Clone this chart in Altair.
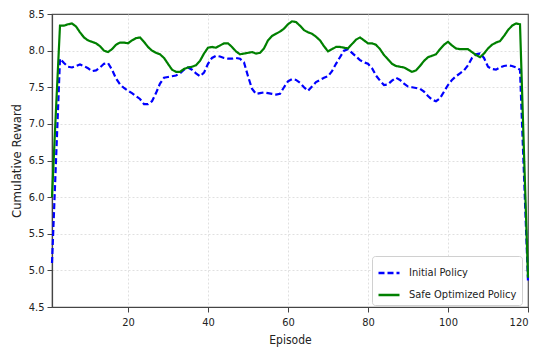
import altair as alt
import pandas as pd

episodes = list(range(1, 121))

initial_policy = [
    5.10, 6.50, 7.89, 7.83, 7.78, 7.77, 7.79, 7.81, 7.79, 7.76,
    7.72, 7.73, 7.77, 7.82, 7.83, 7.74, 7.62, 7.54, 7.49, 7.45,
    7.42, 7.38, 7.34, 7.27, 7.27, 7.31, 7.42, 7.55, 7.63, 7.64,
    7.65, 7.66, 7.69, 7.74, 7.77, 7.74, 7.69, 7.65, 7.70, 7.82,
    7.90, 7.93, 7.92, 7.90, 7.89, 7.89, 7.90, 7.89, 7.84, 7.65,
    7.48, 7.41, 7.42, 7.43, 7.42, 7.41, 7.40, 7.41, 7.50, 7.58,
    7.61, 7.60, 7.56, 7.50, 7.45, 7.51, 7.57, 7.60, 7.63, 7.65,
    7.72, 7.82, 7.91, 8.00, 8.02, 7.97, 7.92, 7.87, 7.84, 7.82,
    7.76, 7.66, 7.59, 7.53, 7.54, 7.59, 7.63, 7.60, 7.55, 7.51,
    7.50, 7.49, 7.48, 7.44, 7.38, 7.33, 7.31, 7.35, 7.44, 7.53,
    7.60, 7.65, 7.69, 7.73, 7.80, 7.90, 7.95, 7.96, 7.90, 7.78,
    7.75, 7.74, 7.77, 7.79, 7.80, 7.79, 7.77, 7.74, 6.30, 4.85,
]

safe_policy = [
    6.00, 7.20, 8.34, 8.34, 8.36, 8.37, 8.33, 8.25, 8.18, 8.14,
    8.12, 8.10, 8.06, 8.00, 7.98, 8.02, 8.08, 8.11, 8.11, 8.10,
    8.14, 8.17, 8.18, 8.12, 8.05, 8.00, 7.97, 7.95, 7.90, 7.82,
    7.74, 7.71, 7.71, 7.75, 7.77, 7.78, 7.80, 7.86, 7.96, 8.04,
    8.05, 8.04, 8.07, 8.10, 8.10, 8.05, 7.99, 7.95, 7.96, 7.97,
    7.98, 7.96, 7.97, 8.03, 8.14, 8.20, 8.23, 8.26, 8.30, 8.36,
    8.40, 8.39, 8.34, 8.28, 8.25, 8.23, 8.19, 8.14, 8.06, 7.99,
    8.02, 8.05, 8.05, 8.04, 8.03, 8.09, 8.15, 8.18, 8.14, 8.10,
    8.10, 8.08, 8.02, 7.94, 7.88, 7.82, 7.79, 7.78, 7.77, 7.74,
    7.71, 7.73, 7.79, 7.86, 7.91, 7.93, 7.95, 8.02, 8.08, 8.12,
    8.07, 8.03, 8.02, 8.02, 8.02, 7.98, 7.94, 7.91, 7.96, 8.03,
    8.08, 8.11, 8.13, 8.20, 8.28, 8.34, 8.37, 8.36, 6.60, 4.90,
]

series_names = ["Initial Policy", "Safe Optimized Policy"]
series_colors = ["#0000ff", "#008000"]
x_ticks = [20, 40, 60, 80, 100, 120]
y_ticks = [4.5, 5.0, 5.5, 6.0, 6.5, 7.0, 7.5, 8.0, 8.5]

df = pd.concat([
    pd.DataFrame({"Episode": episodes, "Reward": initial_policy, "Policy": series_names[0], "order": 0}),
    pd.DataFrame({"Episode": episodes, "Reward": safe_policy, "Policy": series_names[1], "order": 1}),
])

FONT = "DejaVu Sans Condensed, DejaVu Sans, sans-serif"

chart = alt.Chart(df).mark_line(strokeWidth=2.2).encode(
    x=alt.X("Episode:Q",
            scale=alt.Scale(domain=[1, 120], nice=False, zero=False),
            axis=alt.Axis(values=x_ticks, title="Episode", format="d", labelPadding=4,
                          titlePadding=7, titleFontSize=12,
                          gridOpacity={"condition": {"test": "datum.value >= 120", "value": 0}, "value": 1})),
    y=alt.Y("Reward:Q",
            scale=alt.Scale(domain=[4.5, 8.5], nice=False, zero=False),
            axis=alt.Axis(values=y_ticks, title="Cumulative Reward", format=".1f", labelPadding=3,
                          titlePadding=5, titleFontSize=13,
                          gridOpacity={"condition": {"test": "datum.value >= 8.5", "value": 0}, "value": 1})),
    color=alt.Color("Policy:N",
                    scale=alt.Scale(domain=series_names, range=series_colors),
                    legend=alt.Legend(title=None, orient="none", legendX=320, legendY=242,
                                      symbolType="stroke", symbolStrokeWidth=2.5, symbolSize=441,
                                      labelFontSize=11, labelFont=FONT, labelColor="#222",
                                      labelOffset=8, padding=5, rowPadding=5, fillColor="white",
                                      strokeColor="#d0d0d0", cornerRadius=3)),
    strokeDash=alt.StrokeDash("Policy:N",
                              scale=alt.Scale(domain=series_names, range=[[6, 3], [1, 0]]),
                              legend=None),
    detail="Policy:N",
    order="order:Q",
).properties(
    width=476,
    height=293,
    autosize=alt.AutoSizeParams(type="none"),
    padding={"left": 44, "top": 6, "right": 22, "bottom": 42},
).configure_view(
    stroke="#555555", strokeWidth=1.2
).configure_axis(
    labelFont=FONT, titleFont=FONT, labelFontSize=11,
    titleFontWeight="normal", labelColor="#222", titleColor="#222",
    domainColor="#444444", domainWidth=1.2, tickColor="#444444", tickSize=5,
    gridColor="#d8d8d8", gridDash=[2, 2], gridWidth=0.8,
)

chart.save("out.html", embed_options={"renderer": "svg", "actions": False})
